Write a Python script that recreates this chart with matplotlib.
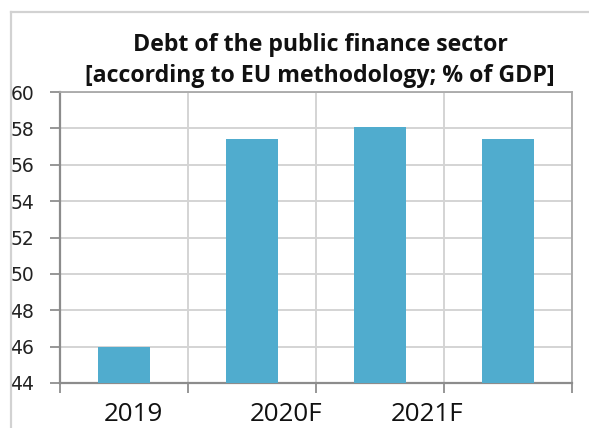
import matplotlib
matplotlib.use("Agg")
import matplotlib.pyplot as plt
from matplotlib.lines import Line2D

# Debt of the public finance sector, % of GDP
years = ["2019", "2020F", "2021F"]
debt = [46.0, 57.4, 58.1, 57.4]
y_ticks = [44, 46, 48, 50, 52, 54, 56, 58, 60]

DPI = 100
fig = plt.figure(figsize=(5.89, 4.28), dpi=DPI)
fig.patch.set_facecolor("white")

# light frame around the chart (left and top edges)
fig.add_artist(Line2D([11 / 589, 11 / 589], [0, 1 - 12 / 428], transform=fig.transFigure,
                      color="#d2d2d2", linewidth=1.6))
fig.add_artist(Line2D([11 / 589, 1], [1 - 12 / 428, 1 - 12 / 428], transform=fig.transFigure,
                      color="#d2d2d2", linewidth=1.6))

left, right, bottom, top = 60 / 589, 572 / 589, 1 - 383 / 428, 1 - 92 / 428
ax = fig.add_axes([left, bottom, right - left, top - bottom])

x = list(range(len(debt)))
ax.bar(x, debt, width=0.4, color="#50acce", zorder=3)

ax.set_xlim(-0.5, len(debt) - 0.5)
ax.set_ylim(y_ticks[0], y_ticks[-1])
ax.set_axisbelow(True)

# category boundaries carry the vertical grid and tick marks
ax.set_xticks([i - 0.5 for i in range(len(debt) + 1)], minor=True)
ax.tick_params(axis="x", which="minor", length=7, width=1.3, color="#8f8f8f")
ax.grid(True, axis="x", which="minor", color="#d4d4d4", linewidth=1.4)

# year labels
ax.set_xticks([0.07, 1.27, 2.37])
ax.set_xticklabels(years, fontfamily="Open Sans", fontsize=18.7, color="#111111")
ax.tick_params(axis="x", which="major", length=0, pad=27.2)
for lbl in ax.get_xticklabels():
    lbl.set_verticalalignment("baseline")

ax.set_yticks(y_ticks)
ax.set_yticklabels([str(v) for v in y_ticks], fontfamily="DejaVu Sans", fontsize=13.5,
                   color="#222222")
ax.tick_params(axis="y", length=7, width=1.3, color="#8f8f8f", pad=11.5)
ax.grid(True, axis="y", which="major", color="#d4d4d4", linewidth=1.4)

for side in ("left", "bottom"):
    ax.spines[side].set_color("#8c8c8c")
    ax.spines[side].set_linewidth(1.6)
for side in ("top", "right"):
    ax.spines[side].set_color("#a8a8a8")
    ax.spines[side].set_linewidth(1.3)

title_x = 320 / 589
title_font = dict(ha="center", va="baseline", fontfamily="Open Sans", fontweight="bold",
                  fontsize=16.7, color="#111111")
fig.text(title_x, 1 - 51 / 428, "Debt of the public finance sector", **title_font)
fig.text(title_x, 1 - 82 / 428, "[according to EU methodology; % of GDP]", **title_font)

fig.savefig("out.png", dpi=DPI)
